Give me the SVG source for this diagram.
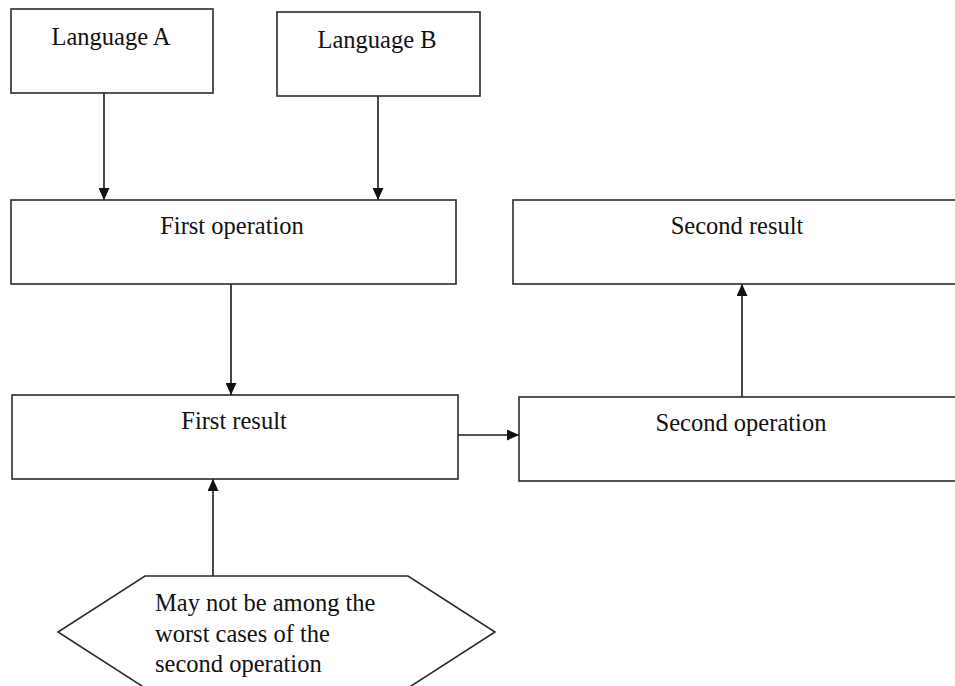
<svg xmlns="http://www.w3.org/2000/svg" width="955" height="686" viewBox="0 0 955 686">
  <defs>
    <style>
      .box { fill: #ffffff; stroke: #2b2b2b; stroke-width: 1.6; }
      .lbl { font-family: "Liberation Serif", "Times New Roman", serif; font-size: 24.5px; fill: #111111; }
      .lbl-c { text-anchor: middle; }
      .edge { fill: none; stroke: #1a1a1a; stroke-width: 1.6; }
    </style>
    <marker id="arrow" viewBox="0 0 10 10" refX="10" refY="5" markerWidth="12" markerHeight="11" markerUnits="userSpaceOnUse" orient="auto" preserveAspectRatio="none">
      <path d="M0,0 L10,5 L0,10 z" fill="#111111"/>
    </marker>
  </defs>
  <rect width="955" height="686" fill="#ffffff"/>

  <g id="connectors">
    <line class="edge" x1="104" y1="93" x2="104" y2="200" marker-end="url(#arrow)"/>
    <line class="edge" x1="378" y1="96" x2="378" y2="200" marker-end="url(#arrow)"/>
    <line class="edge" x1="231" y1="284" x2="231" y2="395" marker-end="url(#arrow)"/>
    <line class="edge" x1="458" y1="435" x2="519" y2="435" marker-end="url(#arrow)"/>
    <line class="edge" x1="742" y1="397" x2="742" y2="284" marker-end="url(#arrow)"/>
    <line class="edge" x1="213" y1="576" x2="213" y2="479" marker-end="url(#arrow)"/>
  </g>

  <g id="language-a">
    <rect class="box" x="11" y="9" width="202" height="84"/>
    <text class="lbl lbl-c" x="111" y="45">Language A</text>
  </g>

  <g id="language-b">
    <rect class="box" x="277" y="12" width="203" height="84"/>
    <text class="lbl lbl-c" x="377" y="48">Language B</text>
  </g>

  <g id="first-operation">
    <rect class="box" x="11" y="200" width="445" height="84"/>
    <text class="lbl lbl-c" x="232" y="234">First operation</text>
  </g>

  <g id="second-result">
    <rect class="box" x="513" y="200" width="460" height="84"/>
    <text class="lbl lbl-c" x="737" y="234">Second result</text>
  </g>

  <g id="first-result">
    <rect class="box" x="12" y="395" width="446" height="84"/>
    <text class="lbl lbl-c" x="234" y="429">First result</text>
  </g>

  <g id="second-operation">
    <rect class="box" x="519" y="397" width="454" height="84"/>
    <text class="lbl lbl-c" x="741" y="431">Second operation</text>
  </g>

  <g id="note">
    <polygon class="box" points="145,576 408,576 495,632 408,688 145,688 58,632"/>
    <text class="lbl" x="155" y="611">May not be among the</text>
    <text class="lbl" x="155" y="642">worst cases of the</text>
    <text class="lbl" x="155" y="672">second operation</text>
  </g>
</svg>
